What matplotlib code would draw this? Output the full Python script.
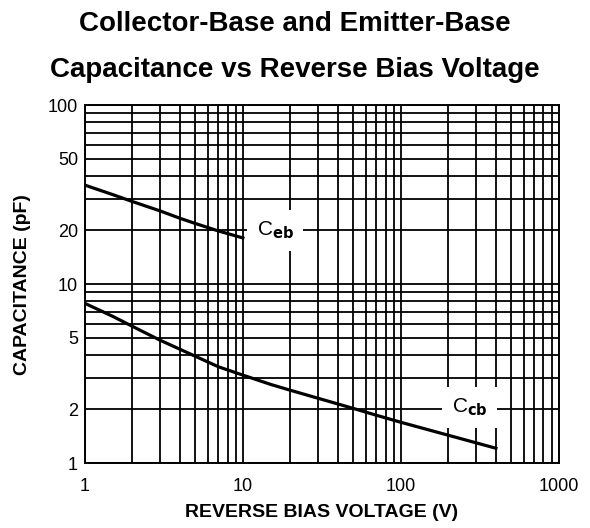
import matplotlib
matplotlib.use("Agg")
import matplotlib.pyplot as plt
from matplotlib.ticker import FixedLocator, LogLocator, NullFormatter

plt.rcParams["font.family"] = ["Liberation Sans", "DejaVu Sans"]

v_eb = [1, 1.5, 2, 3, 4, 5, 7, 10]
c_eb = [35.7, 31.6, 28.9, 25.6, 23.3, 21.8, 19.8, 18.1]

v_cb = [1, 1.5, 2, 3, 5, 7, 10, 15, 20, 30, 50, 70, 100, 200, 400]
c_cb = [7.8, 6.6, 5.8, 4.85, 3.95, 3.45, 3.1, 2.75, 2.55, 2.3, 2.02, 1.85, 1.69, 1.43, 1.21]

x_ticks = [1, 10, 100, 1000]
y_ticks = [1, 2, 5, 10, 20, 50, 100]

fig = plt.figure(figsize=(5.9, 5.28), dpi=100)
ax = fig.add_axes([0.144, 0.123, 0.803, 0.678])
ax.set_xscale("log")
ax.set_yscale("log")
ax.set_xlim(1, 1000)
ax.set_ylim(1, 100)

ax.xaxis.set_major_locator(FixedLocator(x_ticks))
ax.xaxis.set_minor_locator(LogLocator(base=10, subs=range(2, 10)))
ax.xaxis.set_minor_formatter(NullFormatter())
ax.set_xticklabels([str(t) for t in x_ticks])
ax.yaxis.set_major_locator(FixedLocator(y_ticks))
ax.yaxis.set_minor_locator(LogLocator(base=10, subs=range(2, 10)))
ax.yaxis.set_minor_formatter(NullFormatter())
ax.set_yticklabels([str(t) for t in y_ticks])

ax.grid(True, which="both", color="black", linewidth=1.3)
ax.tick_params(which="both", length=0, labelsize=13)
ax.tick_params(axis="x", pad=11)
ax.tick_params(axis="y", pad=5)
for s in ax.spines.values():
    s.set_linewidth(1.4)

ax.plot(v_eb, c_eb, color="black", linewidth=2.3, zorder=3)
ax.plot(v_cb, c_cb, color="black", linewidth=2.3, zorder=3)

box = dict(facecolor="white", edgecolor="none", pad=7)
ax.text(16, 20, r"C$_{\mathbf{eb}}$", fontsize=15, ha="center", va="center",
        bbox=box, zorder=4)
ax.text(272, 2.05, r"C$_{\mathbf{cb}}$", fontsize=15, ha="center", va="center",
        bbox=box, zorder=4)

ax.set_xlabel("REVERSE BIAS VOLTAGE (V)", fontsize=14, fontweight="bold", labelpad=6)
ax.set_ylabel("CAPACITANCE (pF)", fontsize=14, fontweight="bold", labelpad=12)

fig.text(0.5, 0.955, "Collector-Base and Emitter-Base", ha="center", va="center",
         fontsize=20, fontweight="bold")
fig.text(0.5, 0.868, "Capacitance vs Reverse Bias Voltage", ha="center", va="center",
         fontsize=20, fontweight="bold")

fig.savefig("out.png", dpi=100)
